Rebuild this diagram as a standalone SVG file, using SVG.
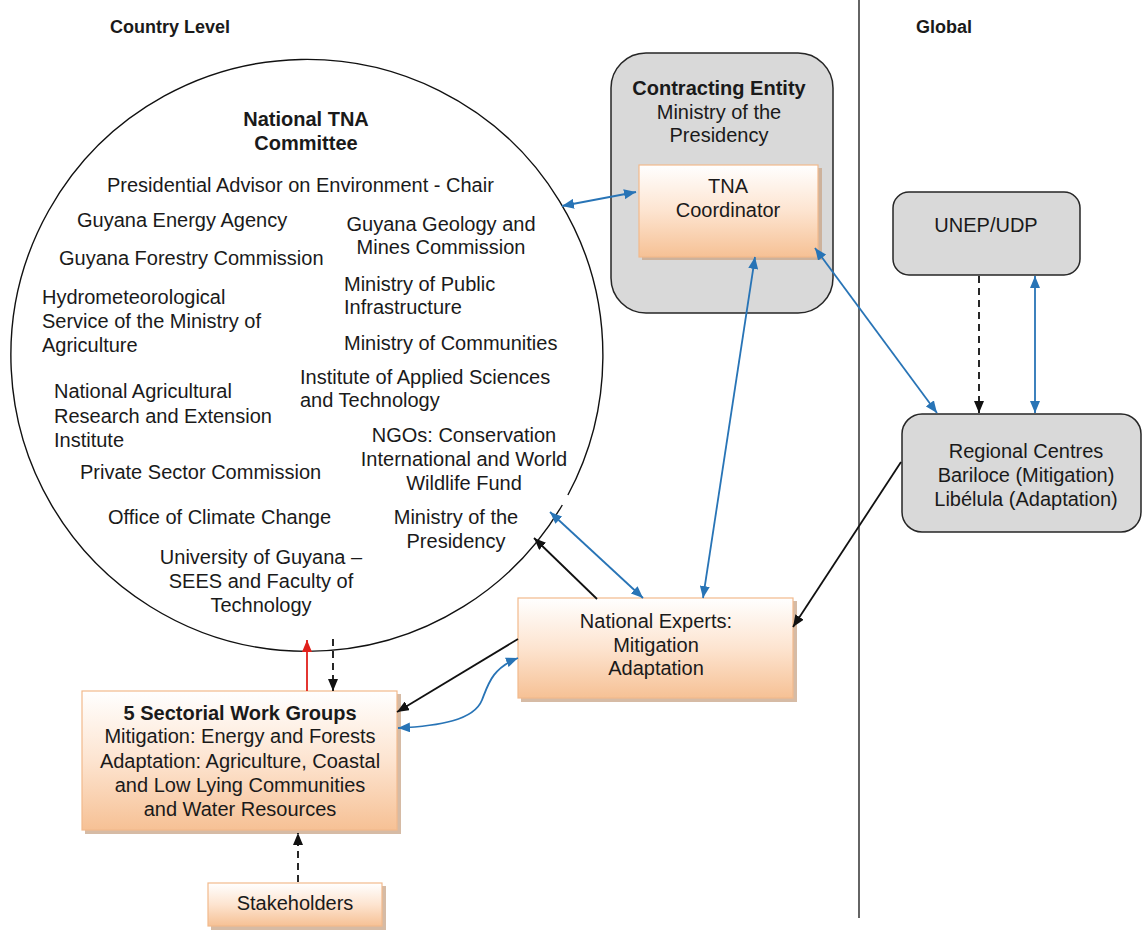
<svg xmlns="http://www.w3.org/2000/svg" width="1143" height="932" viewBox="0 0 1143 932">
<style>
text{font-family:"Liberation Sans",Arial,sans-serif;font-size:20px;fill:#1a1a1a}
.b{font-weight:bold}
.h{font-family:"Liberation Sans",Arial,sans-serif;font-weight:bold;font-size:18px}
.m{text-anchor:middle}
.gray{fill:#d9d9d9;stroke:#262626;stroke-width:1.5}
.org{fill:url(#og);stroke:#f2b98c;stroke-width:1.2}
.sh{fill:#c8a487;opacity:.75}
.blue{stroke:#2874b6;stroke-width:1.8;fill:none;marker-start:url(#ab);marker-end:url(#ab)}
.blk{stroke:#111;stroke-width:1.8;fill:none;marker-end:url(#ak)}
.dash{stroke:#111;stroke-width:1.8;fill:none;stroke-dasharray:7,5;marker-end:url(#ak)}
.red{stroke:#e0201b;stroke-width:1.8;fill:none;marker-end:url(#ar)}
</style>
<defs>
<linearGradient id="og" x1="0" y1="0" x2="0" y2="1">
<stop offset="0" stop-color="#ffffff"/>
<stop offset="0.5" stop-color="#fde4d0"/>
<stop offset="1" stop-color="#f6c195"/>
</linearGradient>
<marker id="ab" markerUnits="userSpaceOnUse" markerWidth="12" markerHeight="10" refX="12" refY="5" orient="auto-start-reverse"><path d="M0,0 L12,5 L0,10 z" fill="#2874b6"/></marker>
<marker id="ak" markerUnits="userSpaceOnUse" markerWidth="12" markerHeight="10" refX="12" refY="5" orient="auto-start-reverse"><path d="M0,0 L12,5 L0,10 z" fill="#111"/></marker>
<marker id="ar" markerUnits="userSpaceOnUse" markerWidth="12" markerHeight="10" refX="12" refY="5" orient="auto-start-reverse"><path d="M0,0 L12,5 L0,10 z" fill="#e0201b"/></marker>
</defs>
<rect width="1143" height="932" fill="#ffffff"/>

<g id="headings">
<text class="h" x="110" y="33">Country Level</text>
<text class="h" x="916" y="33">Global</text>
<line x1="859" y1="0" x2="859" y2="918" stroke="#111" stroke-width="1.3"/>
</g>

<g id="committee">
<path d="M562.3,505 A296,296 0 1 1 567.9,495" fill="none" stroke="#111" stroke-width="1.4"/>
<text class="b m" x="306" y="126">National TNA</text>
<text class="b m" x="306" y="150">Committee</text>
<text x="107" y="192">Presidential Advisor on Environment - Chair</text>
<text x="77" y="227">Guyana Energy Agency</text>
<text class="m" x="441" y="231">Guyana Geology and</text>
<text class="m" x="441" y="254">Mines Commission</text>
<text x="59" y="265">Guyana Forestry Commission</text>
<text x="344" y="291">Ministry of Public</text>
<text x="344" y="314">Infrastructure</text>
<text x="42" y="304">Hydrometeorological</text>
<text x="42" y="328">Service of the Ministry of</text>
<text x="42" y="352">Agriculture</text>
<text x="344" y="350">Ministry of Communities</text>
<text x="300" y="384">Institute of Applied Sciences</text>
<text x="300" y="407">and Technology</text>
<text x="54" y="398">National Agricultural</text>
<text x="54" y="423">Research and Extension</text>
<text x="54" y="447">Institute</text>
<text class="m" x="464" y="442">NGOs: Conservation</text>
<text class="m" x="464" y="466">International and World</text>
<text class="m" x="464" y="490">Wildlife Fund</text>
<text x="80" y="479">Private Sector Commission</text>
<text x="108" y="524">Office of Climate Change</text>
<text class="m" x="456" y="524">Ministry of the</text>
<text class="m" x="456" y="548">Presidency</text>
<text class="m" x="261" y="564">University of Guyana –</text>
<text class="m" x="261" y="588">SEES and Faculty of</text>
<text class="m" x="261" y="612">Technology</text>
</g>

<g id="contracting-entity">
<rect class="gray" x="611" y="53" width="222" height="260" rx="35"/>
<text class="b m" x="719" y="95">Contracting Entity</text>
<text class="m" x="719" y="119">Ministry of the</text>
<text class="m" x="719" y="142">Presidency</text>
</g>

<g id="tna-coordinator">
<rect class="sh" x="642" y="168" width="180" height="92"/>
<rect class="org" x="639" y="165" width="179" height="92"/>
<text class="m" x="728" y="193">TNA</text>
<text class="m" x="728" y="217">Coordinator</text>
</g>

<g id="unep">
<rect class="gray" x="893" y="192" width="187" height="83" rx="16"/>
<text class="m" x="986" y="232">UNEP/UDP</text>
</g>

<g id="regional-centres">
<rect class="gray" x="902" y="414" width="239" height="118" rx="20"/>
<text class="m" x="1026" y="458">Regional Centres</text>
<text class="m" x="1026" y="482">Bariloce (Mitigation)</text>
<text class="m" x="1026" y="506">Libélula (Adaptation)</text>
</g>

<g id="national-experts">
<rect class="sh" x="521" y="601" width="276" height="101"/>
<rect class="org" x="518" y="598" width="275" height="100"/>
<text class="m" x="656" y="628">National Experts:</text>
<text class="m" x="656" y="652">Mitigation</text>
<text class="m" x="656" y="675">Adaptation</text>
</g>

<g id="work-groups">
<rect class="sh" x="85" y="694" width="316" height="140"/>
<rect class="org" x="82" y="691" width="315" height="139"/>
<text class="b m" x="240" y="720">5 Sectorial Work Groups</text>
<text class="m" x="240" y="743">Mitigation: Energy and Forests</text>
<text class="m" x="240" y="768">Adaptation: Agriculture, Coastal</text>
<text class="m" x="240" y="792">and Low Lying Communities</text>
<text class="m" x="240" y="816">and Water Resources</text>
</g>

<g id="stakeholders">
<rect class="sh" x="211" y="886" width="175" height="44"/>
<rect class="org" x="208" y="883" width="174" height="43"/>
<text class="m" x="295" y="910">Stakeholders</text>
</g>

<g id="connectors">
<line class="blue" x1="562" y1="206" x2="636" y2="192"/>
<line class="blue" x1="755" y1="257" x2="703" y2="598"/>
<line class="blue" x1="815" y1="248" x2="937" y2="413"/>
<line class="dash" x1="979" y1="276" x2="979" y2="413"/>
<line class="blue" x1="1035" y1="276" x2="1035" y2="413"/>
<line class="blk" x1="901" y1="462" x2="793" y2="627"/>
<line class="blue" x1="550" y1="512" x2="643" y2="598"/>
<line class="blk" x1="597" y1="599" x2="534" y2="538"/>
<line class="blk" x1="518" y1="639" x2="397" y2="712"/>
<path class="blue" d="M518,658 C492,668 488,685 482,700 C474,720 440,726 398,728"/>
<line class="red" x1="307" y1="691" x2="307" y2="640"/>
<line class="dash" x1="333" y1="639" x2="333" y2="691"/>
<line class="dash" x1="298" y1="882" x2="298" y2="833"/>
</g>
</svg>
